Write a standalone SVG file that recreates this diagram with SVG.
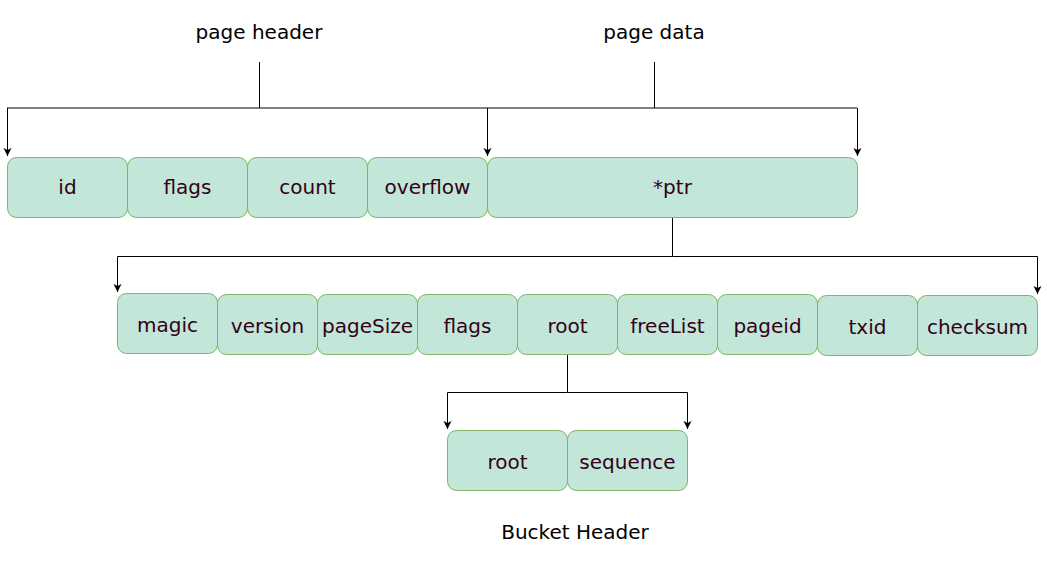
<svg xmlns="http://www.w3.org/2000/svg" width="1047" height="561" viewBox="0 0 1047 561">
<style>
.box{fill:#c2e6d7;stroke:#82b366;stroke-width:1}
.t{font-family:"DejaVu Sans",Verdana,sans-serif;font-size:20px;fill:#33001a;text-anchor:middle}
.lbl{font-family:"DejaVu Sans",Verdana,sans-serif;font-size:20px;fill:#000;text-anchor:middle}
.c{fill:none;stroke:#000;stroke-width:1}
</style>
<defs>
<marker id="ah" markerWidth="9" markerHeight="9" refX="8" refY="4.5" orient="auto" markerUnits="userSpaceOnUse" viewBox="0 0 9 9">
<path d="M0,0.5 L8,4.5 L0,8.5 L2,4.5 Z" fill="#000"/>
</marker>
</defs>
<rect width="1047" height="561" fill="#fff"/>
<text class="lbl" x="259" y="39">page header</text>
<text class="lbl" x="654" y="39">page data</text>
<text class="lbl" x="575" y="539">Bucket Header</text>
<g id="connectors">
<path class="c" d="M259.5,62 V108"/>
<path class="c" d="M654.5,62 V108"/>
<path class="c" d="M7,108 H857"/>
<path class="c" d="M7.5,108 V156" marker-end="url(#ah)"/>
<path class="c" d="M487.5,108 V156" marker-end="url(#ah)"/>
<path class="c" d="M857.5,108 V156" marker-end="url(#ah)"/>
<path class="c" d="M672.5,217 V256.5 H117.5 V292" marker-end="url(#ah)"/>
<path class="c" d="M672.5,256.5 H1037.5 V294" marker-end="url(#ah)"/>
<path class="c" d="M567.5,354 V392.5 H447.5 V429" marker-end="url(#ah)"/>
<path class="c" d="M567.5,392.5 H687.5 V429" marker-end="url(#ah)"/>
</g>
<g id="n-id"><rect class="box" x="7.5" y="157.5" width="120" height="60" rx="9"/><text class="t" x="67.5" y="194">id</text></g>
<g id="n-flags1"><rect class="box" x="127.5" y="157.5" width="120" height="60" rx="9"/><text class="t" x="187.5" y="194">flags</text></g>
<g id="n-count"><rect class="box" x="247.5" y="157.5" width="120" height="60" rx="9"/><text class="t" x="307.5" y="194">count</text></g>
<g id="n-overflow"><rect class="box" x="367.5" y="157.5" width="120" height="60" rx="9"/><text class="t" x="427.5" y="194">overflow</text></g>
<g id="n-ptr"><rect class="box" x="487.5" y="157.5" width="370" height="60" rx="9"/><text class="t" x="672.5" y="194">*ptr</text></g>
<g id="n-magic"><rect class="box" x="117.5" y="293.5" width="100" height="60" rx="9"/><text class="t" x="167.5" y="332">magic</text></g>
<g id="n-version"><rect class="box" x="217.5" y="294.5" width="100" height="60" rx="9"/><text class="t" x="267.5" y="333">version</text></g>
<g id="n-pageSize"><rect class="box" x="317.5" y="294.5" width="100" height="60" rx="9"/><text class="t" x="367.5" y="333">pageSize</text></g>
<g id="n-flags2"><rect class="box" x="417.5" y="294.5" width="100" height="60" rx="9"/><text class="t" x="467.5" y="333">flags</text></g>
<g id="n-root1"><rect class="box" x="517.5" y="294.5" width="100" height="60" rx="9"/><text class="t" x="567.5" y="333">root</text></g>
<g id="n-freeList"><rect class="box" x="617.5" y="294.5" width="100" height="60" rx="9"/><text class="t" x="667.5" y="333">freeList</text></g>
<g id="n-pageid"><rect class="box" x="717.5" y="294.5" width="100" height="60" rx="9"/><text class="t" x="767.5" y="333">pageid</text></g>
<g id="n-txid"><rect class="box" x="817.5" y="295.5" width="100" height="60" rx="9"/><text class="t" x="867.5" y="334">txid</text></g>
<g id="n-checksum"><rect class="box" x="917.5" y="295.5" width="120" height="60" rx="9"/><text class="t" x="977.5" y="334">checksum</text></g>
<g id="n-root2"><rect class="box" x="447.5" y="430.5" width="120" height="60" rx="9"/><text class="t" x="507.5" y="469">root</text></g>
<g id="n-sequence"><rect class="box" x="567.5" y="430.5" width="120" height="60" rx="9"/><text class="t" x="627.5" y="469">sequence</text></g>
</svg>
